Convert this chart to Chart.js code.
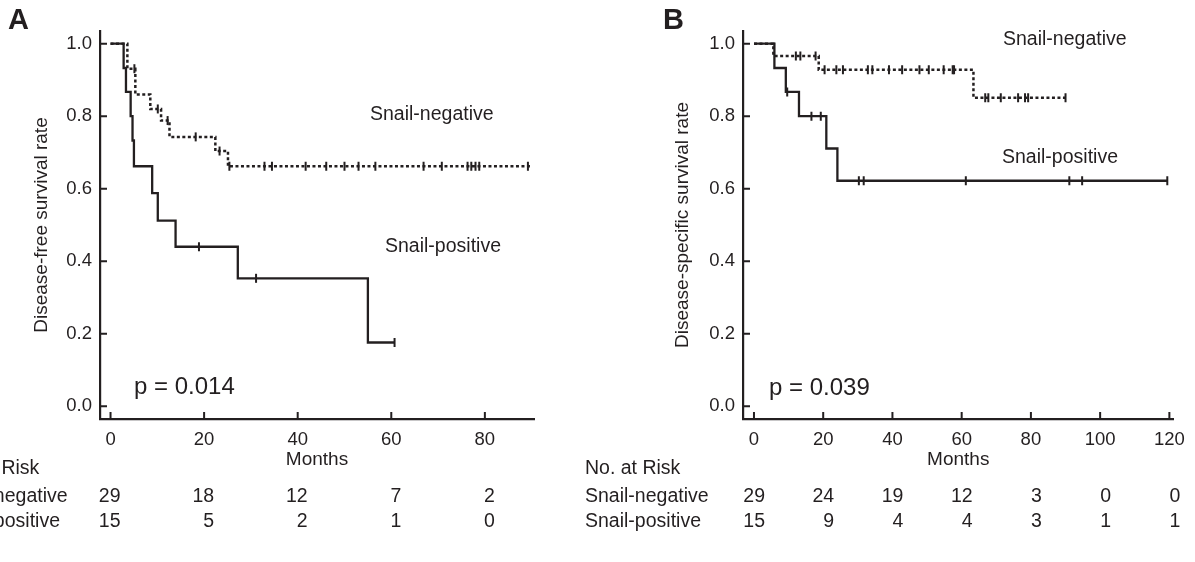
<!DOCTYPE html>
<html><head><meta charset="utf-8">
<script src="https://cdn.jsdelivr.net/npm/chart.js@4.4.1/dist/chart.umd.min.js"></script>
<style>
html,body{margin:0;padding:0;background:#fff;width:1195px;height:562px;overflow:hidden;}
#wrapA{position:absolute;left:0;top:0;width:580px;height:562px;}
#wrapB{position:absolute;left:580px;top:0;width:615px;height:562px;}
canvas{display:block;}
</style></head><body>
<div id="wrapA"><canvas id="cA" width="580" height="562"></canvas></div>
<div id="wrapB"><canvas id="cB" width="615" height="562"></canvas></div>
<script>
// ---------- data ----------
const yTicks = [0, 0.2, 0.4, 0.6, 0.8, 1.0];
const xTicksA = [0, 20, 40, 60, 80];
const xTicksB = [0, 20, 40, 60, 80, 100, 120];

// Panel A: disease-free survival
const negA_t = [0, 3.6, 5.3, 8.5, 10.8, 12.6, 22.4, 25.1, 90.0];
const negA_s = [1, 0.931, 0.860, 0.820, 0.788, 0.743, 0.704, 0.662, 0.662];
const negA_ct = [5.1, 10.1, 12.2, 18.2, 23.3, 25.4, 32.9, 34.5, 41.7, 46.1, 50.0, 53.0, 56.6, 66.9, 70.8, 76.3, 77.1, 78.0, 78.8, 89.2];
const negA_cs = [0.931, 0.820, 0.788, 0.743, 0.704, 0.662, 0.662, 0.662, 0.662, 0.662, 0.662, 0.662, 0.662, 0.662, 0.662, 0.662, 0.662, 0.662, 0.662, 0.662];
const posA_t = [0, 2.8, 3.3, 4.3, 4.7, 5.0, 8.9, 10.1, 13.9, 27.2, 55.0, 60.7];
const posA_s = [1, 0.933, 0.867, 0.800, 0.733, 0.662, 0.588, 0.512, 0.440, 0.353, 0.176, 0.176];
const posA_ct = [18.9, 31.1, 60.7];
const posA_cs = [0.440, 0.353, 0.176];
const riskA_neg = [29, 18, 12, 7, 2];
const riskA_pos = [15, 5, 2, 1, 0];

// Panel B: disease-specific survival
const negB_t = [0, 5.6, 18.7, 63.4, 90.0];
const negB_s = [1, 0.966, 0.928, 0.851, 0.851];
const negB_ct = [12.1, 13.4, 17.8, 20.4, 23.8, 25.7, 32.9, 34.2, 39.0, 42.8, 47.8, 50.5, 54.8, 57.4, 57.8, 66.8, 67.7, 71.3, 76.3, 78.3, 79.2, 90.0];
const negB_cs = [0.966, 0.966, 0.966, 0.928, 0.928, 0.928, 0.928, 0.928, 0.928, 0.928, 0.928, 0.928, 0.928, 0.928, 0.928, 0.851, 0.851, 0.851, 0.851, 0.851, 0.851, 0.851];
const posB_t = [0, 5.9, 9.2, 13.0, 20.9, 24.1, 119.4];
const posB_s = [1, 0.933, 0.867, 0.800, 0.711, 0.622, 0.622];
const posB_ct = [9.6, 16.6, 19.3, 30.3, 31.7, 61.2, 91.1, 94.8, 119.4];
const posB_cs = [0.867, 0.800, 0.800, 0.622, 0.622, 0.622, 0.622, 0.622, 0.622];
const riskB_neg = [29, 24, 19, 12, 3, 0, 0];
const riskB_pos = [15, 9, 4, 4, 3, 1, 1];

const groupNames = ['Snail-negative', 'Snail-positive'];

// ---------- styling ----------
const INK = '#231f20';
const FONT = "'Liberation Sans', Arial, Helvetica, sans-serif";
Chart.defaults.font.family = FONT;
Chart.defaults.color = INK;

function pts(t, s) { return t.map((x, i) => ({x: x, y: s[i]})); }

const inwardTicks = {
  id: 'inwardTicks',
  afterDraw(chart) {
    const ctx = chart.ctx, a = chart.chartArea, xs = chart.scales.x, ys = chart.scales.y;
    ctx.save();
    ctx.strokeStyle = INK; ctx.lineWidth = 2;
    ctx.beginPath();
    xs.ticks.forEach(t => { const p = xs.getPixelForValue(t.value); ctx.moveTo(p, a.bottom); ctx.lineTo(p, a.bottom - 7); });
    ys.ticks.forEach(t => { const p = ys.getPixelForValue(t.value); ctx.moveTo(a.left, p); ctx.lineTo(a.left + 7, p); });
    ctx.stroke();
    ctx.restore();
  }
};

const annotations = {
  id: 'annotations',
  afterDraw(chart, args, o) {
    const ctx = chart.ctx, xs = chart.scales.x;
    ctx.save();
    ctx.fillStyle = INK;
    ctx.textBaseline = 'middle';
    (o.texts || []).forEach(t => {
      ctx.font = (t.bold ? 'bold ' : '') + t.size + 'px ' + FONT;
      ctx.textAlign = 'left';
      ctx.fillText(t.text, t.x, t.y);
    });
    // number-at-risk table
    const tb = o.table;
    ctx.font = tb.size + 'px ' + FONT;
    ctx.textAlign = 'left';
    ctx.fillText('No. at Risk', tb.x, tb.rows[0]);
    ctx.fillText(groupNames[0], tb.x, tb.rows[1]);
    ctx.fillText(groupNames[1], tb.x, tb.rows[2]);
    ctx.textAlign = 'right';
    tb.ticks.forEach((v, i) => {
      const px = xs.getPixelForValue(v) + tb.numShift;
      ctx.fillText(String(tb.neg[i]), px, tb.rows[1]);
      ctx.fillText(String(tb.pos[i]), px, tb.rows[2]);
    });
    ctx.restore();
  }
};

function makeChart(id, cfg) {
  const datasets = [
    {data: pts(cfg.negT, cfg.negS), showLine: true, stepped: 'before', borderColor: INK, borderWidth: 2.5,
     borderDash: [3, 2.5], pointRadius: 0, fill: false},
    {data: pts(cfg.posT, cfg.posS), showLine: true, stepped: 'before', borderColor: INK, borderWidth: 2.3,
     pointRadius: 0, fill: false},
    {data: pts(cfg.negCT, cfg.negCS), showLine: false, pointStyle: 'line', rotation: 90, pointRadius: 4.5,
     borderColor: INK, borderWidth: 2, backgroundColor: INK},
    {data: pts(cfg.posCT, cfg.posCS), showLine: false, pointStyle: 'line', rotation: 90, pointRadius: 4.5,
     borderColor: INK, borderWidth: 2, backgroundColor: INK}
  ];
  return new Chart(document.getElementById(id), {
    type: 'scatter',
    data: {datasets: datasets},
    plugins: [inwardTicks, annotations],
    options: {
      responsive: false, animation: false, events: [],
      layout: {padding: cfg.padding},
      plugins: {legend: {display: false}, tooltip: {enabled: false}, annotations: cfg.ann},
      scales: {
        x: {
          type: 'linear', min: cfg.xMin, max: cfg.xMax,
          afterBuildTicks: s => { s.ticks = cfg.xTicks.map(v => ({value: v})); },
          afterFit: s => { s.height = 52; },
          grid: {display: false, drawTicks: false},
          border: {display: true, color: INK, width: 2.2},
          ticks: {font: {size: 18.5}, color: INK, padding: 10, maxRotation: 0, autoSkip: false},
          title: {display: true, text: 'Months', font: {size: 19}, color: INK, padding: {top: 0, bottom: 0}}
        },
        y: {
          type: 'linear', min: -0.035, max: 1.035,
          afterBuildTicks: s => { s.ticks = yTicks.map(v => ({value: v})); },
          afterFit: s => { s.width = 100; },
          grid: {display: false, drawTicks: false},
          border: {display: true, color: INK, width: 2.2},
          ticks: {font: {size: 18.5}, color: INK, padding: 8, callback: v => Number(v).toFixed(1)},
          title: {display: true, text: cfg.yTitle, font: {size: 19}, color: INK, padding: {top: cfg.yTitlePad, bottom: 0}}
        }
      }
    }
  });
}

makeChart('cA', {
  negT: negA_t, negS: negA_s, posT: posA_t, posS: posA_s,
  negCT: negA_ct, negCS: negA_cs, posCT: posA_ct, posCS: posA_cs,
  xMin: -2.25, xMax: 90.5, xTicks: xTicksA,
  yTitle: 'Disease-free survival rate', yTitlePad: 30.6,
  padding: {left: 0, top: 31, right: 46, bottom: 91},
  ann: {
    texts: [
      {text: 'A', x: 8, y: 21, size: 29, bold: true},
      {text: 'Snail-negative', x: 370, y: 115, size: 19.5},
      {text: 'Snail-positive', x: 385, y: 247, size: 19.5},
      {text: 'p = 0.014', x: 134, y: 387, size: 24}
    ],
    table: {x: -56, rows: [469, 497, 522], size: 19.5, ticks: xTicksA, neg: riskA_neg, pos: riskA_pos, numShift: 10}
  }
});

makeChart('cB', {
  negT: negB_t, negS: negB_s, posT: posB_t, posS: posB_s,
  negCT: negB_ct, negCS: negB_cs, posCT: posB_ct, posCS: posB_cs,
  xMin: -3.17, xMax: 121.2, xTicks: xTicksB,
  yTitle: 'Disease-specific survival rate', yTitlePad: 28.6,
  padding: {left: 63, top: 31, right: 20, bottom: 91},
  ann: {
    texts: [
      {text: 'B', x: 83, y: 21, size: 29, bold: true},
      {text: 'Snail-negative', x: 423, y: 40, size: 19.5},
      {text: 'Snail-positive', x: 422, y: 158, size: 19.5},
      {text: 'p = 0.039', x: 189, y: 388, size: 24}
    ],
    table: {x: 5, rows: [469, 497, 522], size: 19.5, ticks: xTicksB, neg: riskB_neg, pos: riskB_pos, numShift: 11}
  }
});
</script>
</body></html>
